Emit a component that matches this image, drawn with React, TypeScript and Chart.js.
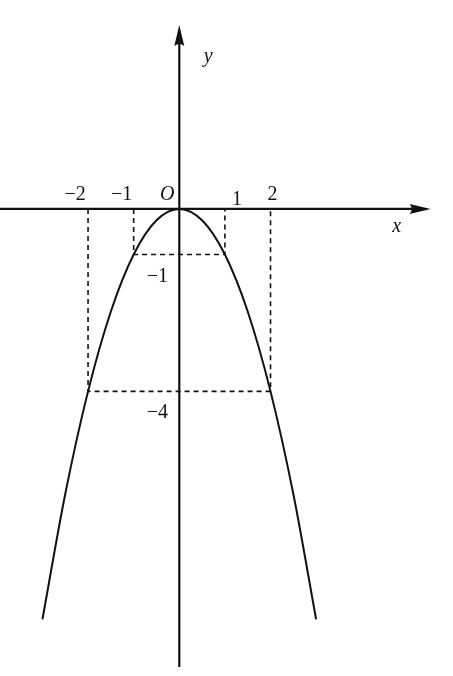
import { useEffect, useRef } from 'react';
import { Chart, registerables } from 'chart.js';

Chart.register(...registerables);

// parabola points
const curveX = [-3, -2.5, -2, -1.5, -1, -0.5, 0, 0.5, 1, 1.5, 2, 2.5, 3];
const curveY = [-9, -6.25, -4, -2.25, -1, -0.25, 0, -0.25, -1, -2.25, -4, -6.25, -9];

// dashed guides: at x = ±guideX down to guideY
const guideX = [1, 2];
const guideY = [-1, -4];

const xTickValues = [-2, -1, 1, 2];
const xTickLabels = ['\u22122', '\u22121', '1', '2'];
const yTickValues = [-1, -4];
const yTickLabels = ['\u22121', '\u22124'];

// axis extents (x axis from left edge to arrow tip, y axis from bottom to arrow tip)
const xAxisRange = [-3.93, 5.51];
const yAxisRange = [-10.04, 4.03];

const W = 453;
const H = 676;

const axesPlugin = {
  id: 'mathAxes',
  afterDatasetsDraw(chart: Chart) {
    const ctx = chart.ctx;
    const xs = chart.scales.x;
    const ys = chart.scales.y;
    const ox = xs.getPixelForValue(0);
    const oy = ys.getPixelForValue(0);

    ctx.save();
    ctx.strokeStyle = '#111';
    ctx.fillStyle = '#111';
    ctx.lineWidth = 2.2;

    // x axis
    const xl = xs.getPixelForValue(xAxisRange[0]);
    const xr = xs.getPixelForValue(xAxisRange[1]);
    ctx.beginPath();
    ctx.moveTo(xl, oy);
    ctx.lineTo(xr - 10, oy);
    ctx.stroke();
    ctx.beginPath();
    ctx.moveTo(xr, oy);
    ctx.lineTo(xr - 21, oy - 5);
    ctx.quadraticCurveTo(xr - 17, oy, xr - 21, oy + 5);
    ctx.closePath();
    ctx.fill();

    // y axis
    const yb = ys.getPixelForValue(yAxisRange[0]);
    const yt = ys.getPixelForValue(yAxisRange[1]);
    ctx.beginPath();
    ctx.moveTo(ox, yb);
    ctx.lineTo(ox, yt + 10);
    ctx.stroke();
    ctx.beginPath();
    ctx.moveTo(ox, yt);
    ctx.lineTo(ox - 5, yt + 21);
    ctx.quadraticCurveTo(ox, yt + 17, ox + 5, yt + 21);
    ctx.closePath();
    ctx.fill();

    ctx.textAlign = 'center';
    ctx.textBaseline = 'alphabetic';

    ctx.font = 'italic 20px "Liberation Serif", serif';
    ctx.fillText('x', xr - 34, oy + 23);
    ctx.fillText('y', ox + 29, yt + 37);
    ctx.fillText('O', ox - 12, oy - 9);

    ctx.font = '20px "Liberation Serif", serif';
    const xOffsets = [-13, -12, 12, 2];
    xTickValues.forEach((v, i) => {
      const px = xs.getPixelForValue(v);
      ctx.fillText(xTickLabels[i], px + xOffsets[i], oy - (v === 1 ? 4 : 9));
    });
    yTickValues.forEach((v, i) => {
      const py = ys.getPixelForValue(v);
      ctx.fillText(yTickLabels[i], ox - 22, py + 27);
    });

    ctx.restore();
  },
};

export default function App() {
  const canvasRef = useRef<HTMLCanvasElement>(null);
  const chartRef = useRef<Chart | null>(null);

  useEffect(() => {
    if (!canvasRef.current) return;
    if (chartRef.current) chartRef.current.destroy();
    const ctx = canvasRef.current.getContext('2d');
    if (!ctx) return;

    const guideSets = guideX.map((gx, i) => ({
      data: [
        { x: -gx, y: 0 },
        { x: -gx, y: guideY[i] },
        { x: gx, y: guideY[i] },
        { x: gx, y: 0 },
      ],
      borderColor: '#111',
      borderWidth: 1.6,
      borderDash: [5, 4],
      pointRadius: 0,
      showLine: true,
      tension: 0,
    }));

    chartRef.current = new Chart(ctx, {
      type: 'scatter',
      data: {
        datasets: [
          ...guideSets,
          {
            data: curveX.map((x, i) => ({ x, y: curveY[i] })),
            borderColor: '#111',
            borderWidth: 2,
            pointRadius: 0,
            showLine: true,
            cubicInterpolationMode: 'monotone',
          },
        ],
      },
      options: {
        responsive: false,
        animation: false,
        layout: { padding: 0 },
        plugins: {
          legend: { display: false },
          tooltip: { enabled: false },
        },
        scales: {
          x: { type: 'linear', display: false, min: -3.93, max: 6.0 },
          y: { type: 'linear', display: false, min: -10.24, max: 4.58 },
        },
      },
      plugins: [axesPlugin],
    });

    return () => {
      if (chartRef.current) {
        chartRef.current.destroy();
        chartRef.current = null;
      }
    };
  }, []);

  return (
    <div style={{ position: 'absolute', left: 0, top: 0, width: W, height: H, background: '#fff' }}>
      <canvas ref={canvasRef} width={W} height={H} />
    </div>
  );
}
